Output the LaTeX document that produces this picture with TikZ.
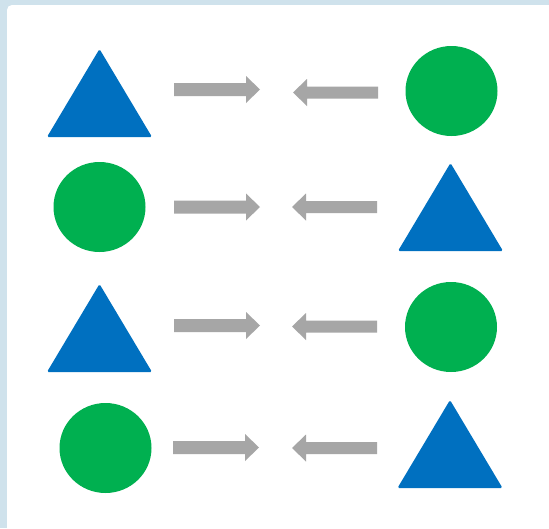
\documentclass[tikz,border=0pt]{standalone}
\usetikzlibrary{calc}
\definecolor{shapeblue}{HTML}{0070C0}
\definecolor{shapegreen}{HTML}{00B050}
\definecolor{arrowgray}{HTML}{A6A6A6}
\definecolor{bgblue}{HTML}{CFE2EC}
\tikzset{
  tri/.pic={\fill[shapeblue,rounded corners=1.5pt] (-52.5,0) -- (0,-88) -- (52.5,0) -- cycle;},
  disc/.pic={\fill[shapegreen] (0,0) ellipse [x radius=46, y radius=45];},
  rarrow/.pic={\fill[arrowgray] (0,-6.5) -- (72,-6.5) -- (72,-13.5) -- (86,0) -- (72,13.5) -- (72,6.5) -- (0,6.5) -- cycle;},
  larrow/.pic={\fill[arrowgray] (0,0) -- (14,-13.5) -- (14,-6) -- (85,-6) -- (85,6) -- (14,6) -- (14,13.5) -- cycle;}
}
\begin{document}
\begin{tikzpicture}[x=1pt,y=-1pt]
\useasboundingbox (0,0) rectangle (549,528);
\fill[bgblue] (0,0) rectangle (549,528);
\fill[white,rounded corners=5pt] (7,5) rectangle (560,540);
% row 1
\pic at (99.5,137) {tri};
\pic at (451.5,91) {disc};
\pic at (174,89.5) {rarrow};
\pic at (293,92.5) {larrow};
% row 2
\pic at (99.5,207) {disc};
\pic at (450.5,251) {tri};
\pic at (174,207) {rarrow};
\pic at (292,207) {larrow};
% row 3
\pic at (99.5,372) {tri};
\pic at (451,327) {disc};
\pic at (174,325.5) {rarrow};
\pic at (292,326.5) {larrow};
% row 4
\pic at (105.5,448) {disc};
\pic at (450,488) {tri};
\pic at (173,447.5) {rarrow};
\pic at (292,448) {larrow};
\end{tikzpicture}
\end{document}
